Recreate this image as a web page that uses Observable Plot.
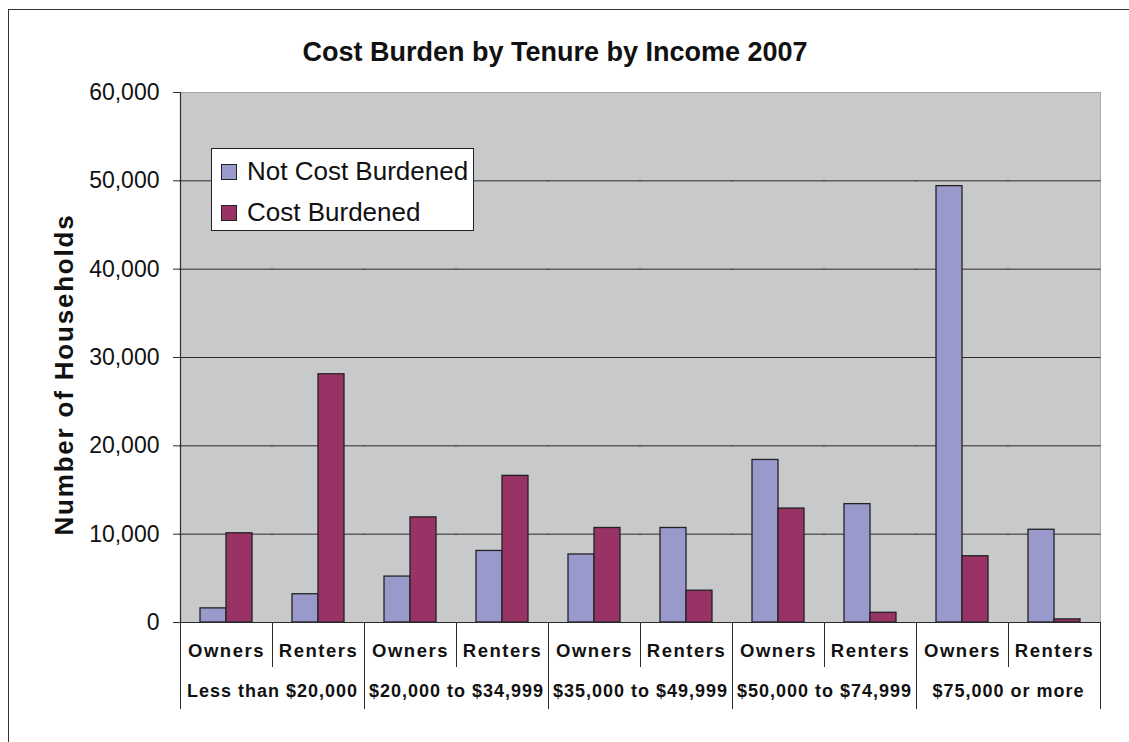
<!DOCTYPE html>
<html>
<head>
<meta charset="utf-8">
<script src="https://cdn.jsdelivr.net/npm/d3@7"></script>
<script src="https://cdn.jsdelivr.net/npm/@observablehq/plot@0.6"></script>
<style>
  html, body { margin: 0; padding: 0; background: #fff; overflow: hidden; }
  body { font-family: "Liberation Sans", Arial, sans-serif; }
  #wrap { position: relative; width: 1129px; height: 742px; }
  #border { position: absolute; left: 8px; top: 9px; width: 1200px; height: 900px;
            border-left: 1px solid #333; border-top: 1px solid #333; }
  #title { position: absolute; left: 0; top: 36px; width: 1110px; text-align: center;
           font-size: 27px; font-weight: bold; color: #111; line-height: 32px; }
  #chart { position: absolute; left: 0; top: 0; }
  #legend { position: absolute; left: 211px; top: 148px; width: 261px; height: 81px;
            border: 1px solid #222; background: #fff; }
  .lg-row { position: absolute; left: 9px; display: flex; align-items: center;
            font-size: 26px; color: #111; white-space: nowrap; }
  .lg-sw { width: 14px; height: 14px; border: 1px solid #222; margin-right: 10px; }
</style>
</head>
<body>
<div id="wrap">
  <div id="border"></div>
  <div id="chart"></div>
  <div id="title">Cost Burden by Tenure by Income 2007</div>
  <div id="legend"></div>
</div>
<script>
const groups = ["Less than $20,000", "$20,000 to $34,999", "$35,000 to $49,999", "$50,000 to $74,999", "$75,000 or more"];
const tenures = ["Owners", "Renters"];
const series = ["Not Cost Burdened", "Cost Burdened"];
const seriesColors = ["#9999CC", "#993366"];
// order: group by group, Owners then Renters
const notBurdened = [1600, 3200, 5200, 8100, 7700, 10700, 18400, 13400, 49400, 10500];
const burdened = [10100, 28100, 11900, 16600, 10700, 3600, 12900, 1100, 7500, 350];
const yTicks = [0, 10000, 20000, 30000, 40000, 50000, 60000];
const yLabel = "Number of Households";

const keys = [];
groups.forEach(g => tenures.forEach(t => keys.push(g + "|" + t)));
const data = [];
keys.forEach((k, i) => {
  data.push({key: k, series: series[0], value: notBurdened[i]});
  data.push({key: k, series: series[1], value: burdened[i]});
});

const W = 1129, H = 742, mT = 92, mB = 120, mL = 177, mR = 26;
const plotH = H - mT - mB;
const lineColor = "#2b2b2b";
const fmt = d3.format(",");

const chart = Plot.plot({
  width: W, height: H,
  marginTop: mT, marginBottom: mB, marginLeft: mL, marginRight: mR,
  style: {fontFamily: "Liberation Sans, Arial, sans-serif", color: "#111", background: "transparent"},
  fx: {domain: keys, padding: 0, label: null},
  x: {domain: series, paddingInner: 0, paddingOuter: 0.715, axis: null},
  y: {domain: [0, 60000], label: null},
  color: {domain: series, range: seriesColors},
  marks: [
    Plot.frame({facet: "super", fill: "#C8C9CB", stroke: "none"}),
    Plot.frame({facet: "super", anchor: "top", stroke: "#a8a8a8"}),
    Plot.frame({facet: "super", anchor: "right", stroke: "#a8a8a8"}),
    Plot.ruleY(yTicks.filter(v => v > 0 && v < 60000), {stroke: lineColor, strokeWidth: 1, insetLeft: -0.6, insetRight: -0.6}),
    Plot.barY(data, {fx: "key", x: "series", y: "value", fill: "series", stroke: "#222", strokeWidth: 1.3}),
    Plot.ruleY([0], {stroke: lineColor, strokeWidth: 1.2, insetLeft: -0.6, insetRight: -0.6}),
    Plot.frame({facet: "super", anchor: "left", stroke: lineColor, strokeWidth: 1.2}),
    Plot.frame({anchor: "left", insetTop: plotH, insetBottom: -44, stroke: lineColor}),
    ...groups.map(g => Plot.frame({fx: g + "|Owners", anchor: "left", insetTop: plotH, insetBottom: -86, stroke: lineColor})),
    Plot.frame({fx: keys[keys.length - 1], anchor: "right", insetTop: plotH, insetBottom: -86, stroke: lineColor}),
    Plot.axisY({ticks: yTicks, tickFormat: fmt, tickSize: 7, tickPadding: 14, fontSize: 23, label: null, stroke: lineColor}),
    Plot.axisFx({anchor: "bottom", tickFormat: d => d.split("|")[1], tickSize: 0, tickPadding: 21, fontSize: 18.5, fontWeight: "bold", label: null}),
    Plot.text(groups, {fx: g => g + "|Owners", text: d => d, frameAnchor: "bottom-right", textAnchor: "middle", dy: 74, fontSize: 18, fontWeight: "bold"}),
    Plot.text([yLabel], {fx: () => keys[0], text: d => d, frameAnchor: "left", textAnchor: "middle", rotate: -90, dx: -116, dy: 17, fontSize: 26, fontWeight: "bold"})
  ]
});
document.getElementById("chart").appendChild(chart);

d3.select(chart).selectAll('g[aria-label="fx-axis tick label"] text').style("letter-spacing", "1.5px");
d3.select(chart).selectAll('g[aria-label="text"] text').style("letter-spacing", "1px");
d3.select(chart).selectAll('g[aria-label="text"] text').filter(function() { return this.textContent === yLabel; }).style("letter-spacing", "1.8px");

const legend = d3.select("#legend");
series.forEach((s, i) => {
  const row = legend.append("div").attr("class", "lg-row").style("top", (i === 0 ? 7 : 48) + "px");
  row.append("div").attr("class", "lg-sw").style("background", seriesColors[i]);
  row.append("span").text(s);
});
</script>
</body>
</html>
